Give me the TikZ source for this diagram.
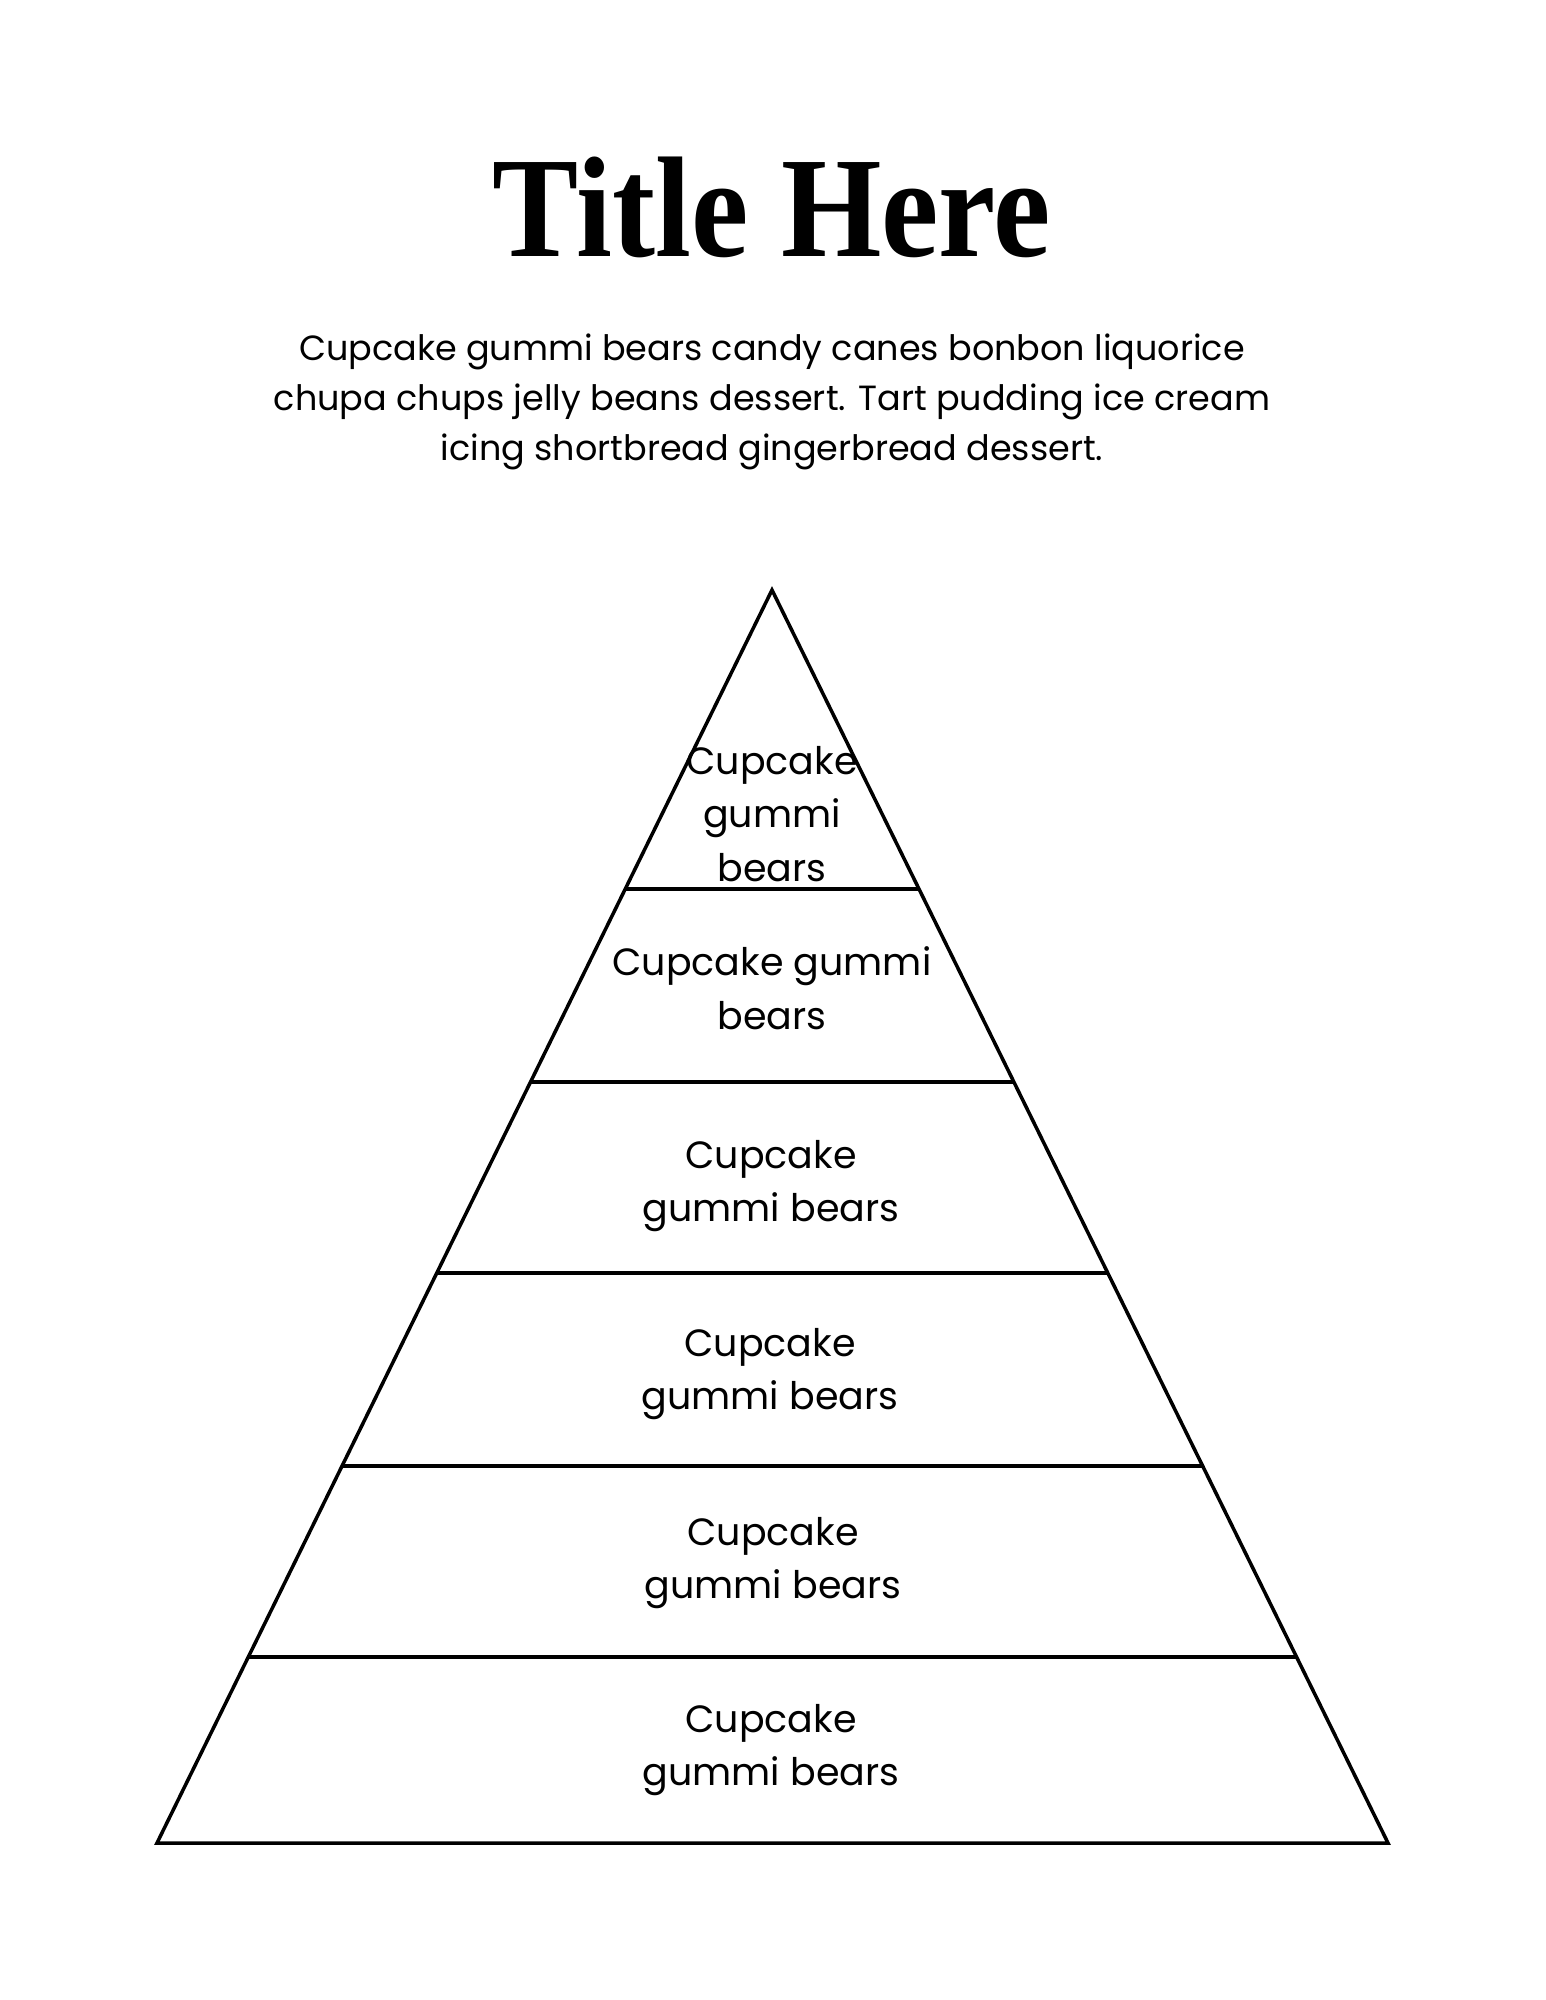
\documentclass[tikz,border=0pt]{standalone}
\usepackage{fontspec}
\setmainfont{Poppins}
\newfontfamily\titlefont{Liberation Serif}
\usetikzlibrary{calc}
\tikzset{edge/.style={line width=1pt,line join=miter},
  blurb/.style={font=\fontsize{9.95}{14.3}\selectfont,align=center},
  tier/.style={font=\fontsize{10.8}{15.25}\selectfont,align=center,inner sep=0pt}}
\newcommand{\tiertext}{Cupcake\\gummi bears}

\begin{document}
\begin{tikzpicture}[x=0.01cm,y=-0.01cm]
\useasboundingbox (0,0) rectangle (1545,2000);
% heading
\node[anchor=base] (title) at (772,257) {\titlefont\bfseries\fontsize{40.8}{48}\selectfont\scalebox{0.9}[1]{Title Here}};
\node[blurb,anchor=north] (intro) at (772,321) {Cupcake gummi bears candy canes bonbon liquorice\\chupa chups jelly beans dessert. Tart pudding ice cream\\icing shortbread gingerbread dessert.};
% pyramid
\coordinate (A) at (772,590);\coordinate (BL) at (157,1843);\coordinate (BR) at (1388,1843);
\draw[edge] (A)--(BL)--(BR)--cycle;
\foreach \t in {0.2386,0.3927,0.5451,0.6991,0.8516}\draw[edge] ($(A)!\t!(BL)$)--($(A)!\t!(BR)$);
% tiers, top to bottom
\node[tier] (t1) at (772,814) {Cupcake\\gummi\\bears};
\node[tier] (t2) at (772,988) {Cupcake gummi\\bears};
\node[tier] (t3) at (771,1186) {\tiertext};
\node[tier] (t4) at (770,1374) {\tiertext};
\node[tier] (t5) at (773,1563) {\tiertext};
\node[tier] (t6) at (771,1750) {\tiertext};
\end{tikzpicture}
\end{document}
